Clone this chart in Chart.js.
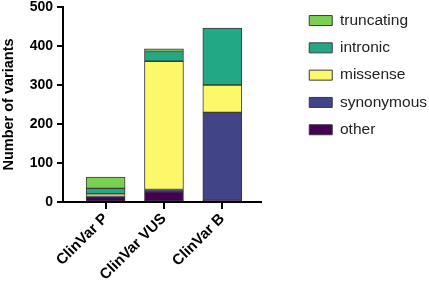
<!DOCTYPE html>
<html>
<head>
<meta charset="utf-8">
<script src="https://cdn.jsdelivr.net/npm/chart.js@4.4.1/dist/chart.umd.min.js"></script>
<style>
  html, body { margin: 0; padding: 0; background: #fff; }
  #wrap { width: 429px; height: 283px; position: relative; }
</style>
</head>
<body>
<div id="wrap"><canvas id="c"></canvas></div>
<script>
  // Categories and stacked counts (bottom -> top)
  const categories = ['ClinVar P', 'ClinVar VUS', 'ClinVar B'];
  const other      = [13, 26, 5];
  const synonymous = [1, 6, 225];
  const missense   = [7, 329, 70];
  const intronic   = [14, 25, 146];
  const truncating = [29, 7, 0];
  const yTicks     = [0, 100, 200, 300, 400, 500];

  const FONT = '"Liberation Sans", Arial, Helvetica, sans-serif';
  const EDGE = '#3a3a3a';

  function series(label, values, color) {
    return {
      label: label,
      yAxisID: 'y',
      data: values.map(function (v, i) { return { x: i + 1, y: v }; }),
      backgroundColor: color,
      borderColor: EDGE,
      borderWidth: 1,
      borderSkipped: false,
      barThickness: 39
    };
  }

  new Chart(document.getElementById('c'), {
    type: 'bar',
    data: {
      datasets: [
        series('other', other, '#440154'),
        series('synonymous', synonymous, '#414487'),
        series('missense', missense, '#fbf86a'),
        series('intronic', intronic, '#22a884'),
        series('truncating', truncating, '#7ad151')
      ]
    },
    options: {
      responsive: true,
      maintainAspectRatio: false,
      animation: false,
      layout: { padding: { top: 1, right: -8, left: 0, bottom: 0 } },
      plugins: {
        tooltip: { enabled: false },
        legend: {
          position: 'right',
          align: 'start',
          reverse: true,
          maxWidth: 220,
          labels: {
            boxWidth: 23,
            boxHeight: 10,
            padding: 11.8,
            color: '#222',
            font: { family: FONT, size: 15.5 }
          }
        }
      },
      scales: {
        x: {
          type: 'linear',
          stacked: true,
          offset: false,
          min: 0.27,
          max: 3.67,
          afterBuildTicks: function (scale) {
            scale.ticks = categories.map(function (_, i) { return { value: i + 1 }; });
          },
          afterFit: function (scale) { scale.height = 81; },
          ticks: {
            minRotation: 45,
            maxRotation: 45,
            color: '#000',
            padding: 1,
            font: { family: FONT, size: 15, weight: 'bold' },
            callback: function (v) { return categories[v - 1]; }
          },
          grid: { offset: false, drawOnChartArea: false, drawTicks: true, tickLength: 7, color: '#000', lineWidth: 2 },
          border: { display: true, color: '#000', width: 2 }
        },
        y: {
          stacked: true,
          min: 0,
          max: 500,
          afterBuildTicks: function (scale) {
            scale.ticks = yTicks.map(function (v) { return { value: v }; });
          },
          afterFit: function (scale) { scale.width = 63; scale.paddingTop = 7; },
          ticks: {
            color: '#000',
            padding: 4,
            font: { family: FONT, size: 14, weight: 'bold' }
          },
          grid: { drawOnChartArea: false, drawTicks: true, tickLength: 6, color: '#000', lineWidth: 2 },
          border: { display: true, color: '#000', width: 2 },
          title: {
            display: true,
            text: 'Number of variants',
            color: '#000',
            padding: { top: 0, bottom: 4 },
            font: { family: FONT, size: 14.5, weight: 'bold' }
          }
        },
        // empty spacer axis: keeps the gap between the plot and the legend
        gap: {
          position: 'right',
          min: 0,
          max: 1,
          display: true,
          grid: { display: false },
          ticks: { display: false },
          border: { display: false },
          afterFit: function (scale) { scale.width = 36; }
        }
      }
    }
  });
</script>
</body>
</html>
